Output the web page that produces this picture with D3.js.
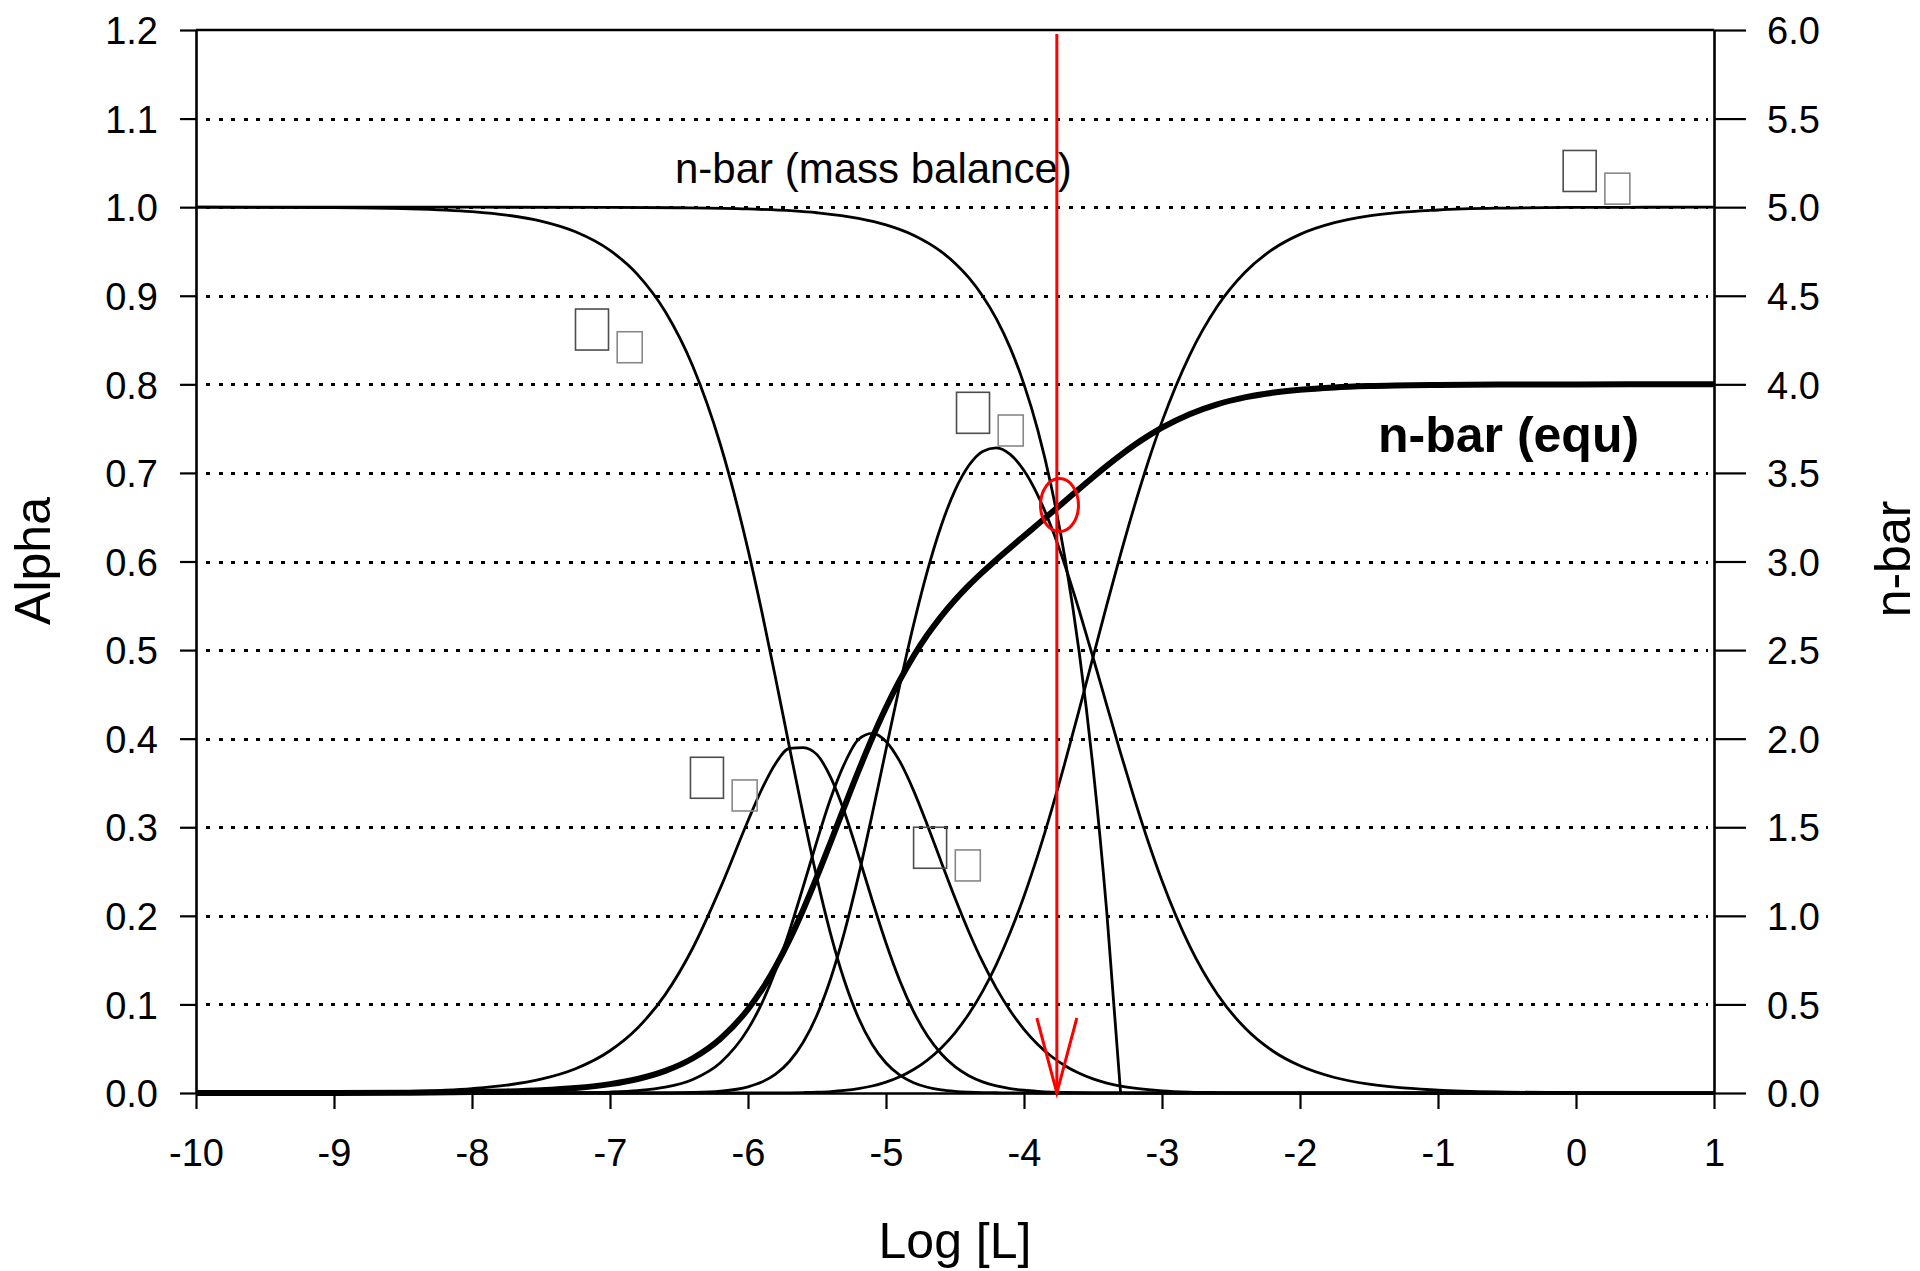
<!DOCTYPE html>
<html><head><meta charset="utf-8">
<script src="https://cdn.jsdelivr.net/npm/d3@7"></script>
<style>
html,body{margin:0;padding:0;background:#fff;}
svg{display:block;font-family:"Liberation Sans",Arial,Helvetica,sans-serif;}
</style></head><body>
<svg id="chart" width="1920" height="1271"></svg>
<script>
// ---------- data ----------
const logL = [-10,-9,-8.5,-8,-7.75,-7.5,-7.25,-7,-6.8,-6.6,-6.4,-6.2,
  -6.0,-5.9,-5.8,-5.7,-5.6,-5.5,-5.4,-5.3,-5.2,-5.1,
  -5.0,-4.9,-4.8,-4.7,-4.6,-4.5,-4.4,-4.3,-4.2,-4.1,
  -4.0,-3.9,-3.8,-3.7,-3.6,-3.5,-3.4,-3.3,-3.2,-3.1,
  -3.0,-2.8,-2.6,-2.4,-2.2,-2.0,-1.75,-1.5,-1.0,-0.5,0,0.5,1];

const alpha0 = [1.0,0.9995,0.9984,0.995,0.9911,0.9843,0.9722,0.9512,0.9239,0.8822,0.8204,0.7321,
  0.6134,0.5434,0.4683,0.3907,0.3141,0.2423,0.1789,0.1261,0.0849,0.0547,
  0.0338,0.0201,0.0116,0.0065,0.0035,0.0019,0.0010,0.0005,0.0003,0.0001,
  0.0001,0,0,0,0,0,0,0,0,0,
  0,0,0,0,0,0,0,0,0,0,0,0,0];

const alpha1 = [0.00005,0.0005,0.0016,0.0050,0.0088,0.0156,0.0274,0.0477,0.0734,0.1111,0.1637,0.2315,
  0.3074,0.3429,0.3720,0.3890,0.3900,0.3820,0.3560,0.3167,0.2684,0.2176,
  0.1693,0.1268,0.0919,0.0646,0.0443,0.0297,0.0195,0.0126,0.0080,0.0050,
  0.0031,0.0019,0.0011,0.0007,0.0004,0.0002,0.0001,0.0001,0,0,
  0,0,0,0,0,0,0,0,0,0,0,0,0];

const alpha2 = [0,0,0,0.00001,0.00004,0.0001,0.0004,0.0011,0.0027,0.0065,0.0153,0.0342,
  0.0721,0.1012,0.1382,0.1828,0.2329,0.2847,0.3331,0.3721,0.3990,0.4060,
  0.3969,0.3743,0.3414,0.3023,0.2609,0.2201,0.1821,0.1479,0.1181,0.0929,
  0.0719,0.0548,0.0412,0.0305,0.0222,0.0159,0.0112,0.0078,0.0054,0.0037,
  0.0025,0.0011,0.0005,0.0002,0.0001,0,0,0,0,0,0,0,0];

const alpha3 = [0,0,0,0,0,0,0,0.00001,0.00004,0.0002,0.0006,0.0021,
  0.0070,0.0124,0.0214,0.0356,0.0572,0.0880,0.1296,0.1822,0.2448,0.3146,
  0.3878,0.4605,0.5287,0.5894,0.6404,0.6803,0.7083,0.7243,0.7283,0.7209,
  0.7027,0.6747,0.6380,0.5941,0.5447,0.4919,0.4377,0.3838,0.3321,0.2837,
  0.2397,0.1662,0.1118,0.0736,0.0477,0.0307,0.0175,0.0099,0.0032,0.0010,0.0003,0.0001,0.00003];

const alpha4 = [0,0,0,0,0,0,0,0,0,0,0.000001,0.000004,
  0.00002,0.00005,0.0001,0.0002,0.0005,0.0009,0.0016,0.0029,0.0049,0.0079,
  0.0123,0.0183,0.0265,0.0372,0.0509,0.0680,0.0892,0.1148,0.1453,0.1811,
  0.2222,0.2686,0.3197,0.3748,0.4327,0.4919,0.5510,0.6083,0.6625,0.7126,
  0.7579,0.8328,0.8878,0.9262,0.9522,0.9693,0.9825,0.9901,0.9968,0.9990,0.9997,0.9999,1.0];

// n-bar (equ), right-axis units
const nbarEqu = [0.00005,0.0005,0.0016,0.0050,0.0089,0.0158,0.0281,0.0499,0.0790,0.1246,0.1960,0.3064,
  0.4728,0.5828,0.7130,0.8640,1.0344,1.2210,1.4182,1.6192,1.8164,2.0034,
  2.1755,2.3301,2.4667,2.5863,2.6908,2.7829,2.8652,2.9402,3.0105,3.0779,
  3.1440,3.2100,3.2763,3.3430,3.4097,3.4756,3.5395,3.6003,3.6571,3.7089,
  3.7554,3.8317,3.8873,3.9261,3.9521,3.9692,3.9825,3.9901,3.9968,3.9990,3.9997,3.9999,4.0];

// n-bar (mass balance), right-axis units
const mbLogL = [-10,-9,-8,-7,-6.5,-6,-5.5,-5.2,-5.0,-4.8,-4.6,-4.5,-4.4,-4.3,-4.2,-4.1,-4.0,-3.9,-3.8,-3.7,-3.6,-3.5,-3.4,-3.3];
const nbarMassBalance = [5.0,5.0,4.9999,4.999,4.9968,4.99,4.9684,4.9369,4.90,4.8415,4.7488,4.6838,4.6019,4.4988,4.3690,4.2057,4.0,3.7411,3.4151,3.0047,2.4881,1.8377,1.0189,0];

const leftTicks = [0,0.1,0.2,0.3,0.4,0.5,0.6,0.7,0.8,0.9,1.0,1.1,1.2];
const rightTicks = [0,0.5,1,1.5,2,2.5,3,3.5,4,4.5,5,5.5,6];
const xTicks = [-10,-9,-8,-7,-6,-5,-4,-3,-2,-1,0,1];
const gridValues = [0.1,0.2,0.3,0.4,0.5,0.6,0.7,0.8,0.9,1.0,1.1];

// species label anchors (log L, alpha) — glyphs render as empty boxes in the reference
const labelNames = ["α0","α1","α2","α3","α4"];
const labelX = [-7.25,-6.417,-4.80,-4.489,-0.093];
const labelY = [0.885,0.379,0.300,0.791,1.064];

const markerLogL = -3.762;
const crossLogL = -3.743, crossAlpha = 0.6637;

// ---------- drawing ----------
const svg = d3.select("#chart");
const x = d3.scaleLinear().domain([-10,1]).range([196,1714]);
const y = d3.scaleLinear().domain([0,1.2]).range([1093,30]);
const y2 = d3.scaleLinear().domain([0,6]).range([1093,30]);

// dotted grid (pixel-snapped so the dots stay crisp)
svg.append("g").selectAll("line").data(gridValues).join("line")
  .attr("x1",206).attr("x2",1708)
  .attr("y1",d=>Math.round(y(d))+0.5).attr("y2",d=>Math.round(y(d))+0.5)
  .attr("stroke","#000").attr("stroke-width",3).attr("stroke-dasharray","4 8.5")
  .attr("shape-rendering","crispEdges");

// top border
svg.append("line").attr("x1",x(-10)).attr("x2",x(1)).attr("y1",y(1.2)).attr("y2",y(1.2))
  .attr("stroke","#000").attr("stroke-width",2.5);

function styleAxis(g){
  g.attr("font-size",38).attr("font-family","'Liberation Sans',Arial,sans-serif");
  g.select(".domain").attr("stroke","#000").attr("stroke-width",2.6);
  g.selectAll(".tick line").attr("stroke","#000").attr("stroke-width",2.2);
  g.selectAll(".tick text").attr("fill","#000");
}
const fmt1 = d3.format(".1f");
svg.append("g").attr("transform","translate(196,0)")
  .call(d3.axisLeft(y).tickValues(leftTicks).tickSize(16).tickSizeOuter(0).tickPadding(22).tickFormat(fmt1))
  .call(styleAxis).call(g=>g.selectAll(".tick text").attr("dy","0.36em"));
svg.append("g").attr("transform","translate(1714,0)")
  .call(d3.axisRight(y2).tickValues(rightTicks).tickSize(32).tickSizeOuter(0).tickPadding(21).tickFormat(fmt1))
  .call(styleAxis).call(g=>g.selectAll(".tick text").attr("dy","0.36em"));
svg.append("g").attr("transform","translate(0,1093)")
  .call(d3.axisBottom(x).tickValues(xTicks).tickSize(16).tickSizeOuter(0).tickPadding(30).tickFormat(d=>String(d)))
  .call(styleAxis);

// curves
const lineL = d3.line().x(d=>x(d[0])).y(d=>y(d[1])).curve(d3.curveMonotoneX);
const lineR = d3.line().x(d=>x(d[0])).y(d=>y2(d[1])).curve(d3.curveMonotoneX);
const curves = svg.append("g").attr("fill","none").attr("stroke","#000");
[alpha0,alpha1,alpha2,alpha3,alpha4].forEach(a=>{
  curves.append("path").attr("d",lineL(d3.zip(logL,a))).attr("stroke-width",2.8);
});
curves.append("path").attr("d",lineR(d3.zip(mbLogL,nbarMassBalance))).attr("stroke-width",2.8);
curves.append("path").attr("d",lineR(d3.zip(logL,nbarEqu))).attr("stroke-width",6).attr("stroke-linejoin","round");

// species labels (rendered as empty glyph boxes, as in the reference)
const lab = svg.append("g").attr("fill","none");
labelNames.forEach((n,i)=>{
  const g = lab.append("g").attr("transform",`translate(${x(labelX[i])},${y(labelY[i])})`).attr("aria-label",n);
  g.append("rect").attr("x",0).attr("y",0).attr("width",33).attr("height",41).attr("stroke","#4d4d4d").attr("stroke-width",1.6);
  g.append("rect").attr("x",41.7).attr("y",22.7).attr("width",25).attr("height",31).attr("stroke","#888").attr("stroke-width",1.6);
});

// annotations
svg.append("text").attr("x",675).attr("y",183).attr("font-size",42).text("n-bar (mass balance)");
svg.append("text").attr("x",1378).attr("y",452).attr("font-size",50).attr("font-weight","bold").text("n-bar (equ)");

// axis titles
svg.append("text").attr("transform","translate(50,561) rotate(-90)").attr("text-anchor","middle").attr("font-size",50).text("Alpha");
svg.append("text").attr("transform","translate(1910,559) rotate(-90)").attr("text-anchor","middle").attr("font-size",50).text("n-bar");
svg.append("text").attr("x",955).attr("y",1258).attr("text-anchor","middle").attr("font-size",50).text("Log [L]");

// red marker
const red = svg.append("g").attr("stroke","#ff0000").attr("fill","none").attr("stroke-width",3);
const mx = x(markerLogL);
red.append("line").attr("x1",mx).attr("x2",mx).attr("y1",y(1.2)+4).attr("y2",y(0));
red.append("path").attr("d",`M${mx-20},${y(0)-75} L${mx},${y(0)} L${mx+20},${y(0)-75}`);
red.append("ellipse").attr("cx",x(crossLogL)).attr("cy",y(crossAlpha)).attr("rx",19).attr("ry",26.5);
</script>
</body></html>
